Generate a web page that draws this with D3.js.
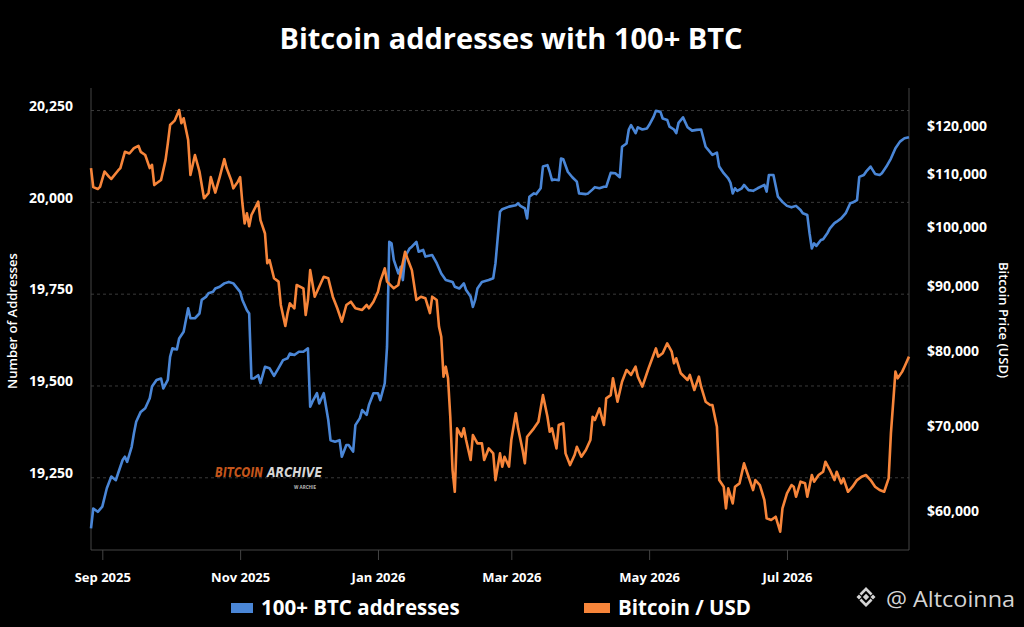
<!DOCTYPE html>
<html>
<head>
<meta charset="utf-8">
<title>Bitcoin addresses with 100+ BTC</title>
<script src="https://d3js.org/d3.v7.min.js"></script>
<style>
  html, body { margin: 0; padding: 0; background: #000; }
  svg { display: block; font-family: "Open Sans", "Noto Sans", sans-serif; }
</style>
</head>
<body>
<script>
// ---- data ----
const addrDates = [
  "2025-08-27","2025-08-28","2025-08-30","2025-09-01","2025-09-03","2025-09-05","2025-09-07","2025-09-08","2025-09-10","2025-09-11","2025-09-12","2025-09-14","2025-09-15","2025-09-16","2025-09-18","2025-09-20","2025-09-22","2025-09-23","2025-09-25","2025-09-27","2025-09-28","2025-09-30",
  "2025-10-01","2025-10-02","2025-10-04","2025-10-05","2025-10-07","2025-10-09","2025-10-10","2025-10-12","2025-10-14","2025-10-15","2025-10-17","2025-10-18","2025-10-20","2025-10-21","2025-10-23","2025-10-25","2025-10-27","2025-10-29",
  "2025-11-01","2025-11-02","2025-11-04","2025-11-05","2025-11-06","2025-11-07","2025-11-09","2025-11-10","2025-11-12","2025-11-14","2025-11-16","2025-11-18","2025-11-20","2025-11-22","2025-11-23","2025-11-25","2025-11-27","2025-11-29",
  "2025-12-01","2025-12-02","2025-12-03","2025-12-05","2025-12-06","2025-12-08","2025-12-10","2025-12-11","2025-12-13","2025-12-15","2025-12-16","2025-12-18","2025-12-19","2025-12-21","2025-12-22","2025-12-24","2025-12-25","2025-12-27","2025-12-28","2025-12-30",
  "2026-01-01","2026-01-02","2026-01-04","2026-01-05","2026-01-06","2026-01-07","2026-01-08","2026-01-10","2026-01-11","2026-01-12","2026-01-13","2026-01-15","2026-01-16","2026-01-18","2026-01-19","2026-01-21","2026-01-22","2026-01-25","2026-01-27","2026-01-29","2026-01-31",
  "2026-02-03","2026-02-04","2026-02-06","2026-02-08","2026-02-09","2026-02-11","2026-02-12","2026-02-13","2026-02-14","2026-02-16","2026-02-19","2026-02-21","2026-02-22","2026-02-24","2026-02-25","2026-02-28",
  "2026-03-03","2026-03-04","2026-03-05","2026-03-07","2026-03-08","2026-03-09","2026-03-11","2026-03-12","2026-03-14","2026-03-15","2026-03-17","2026-03-18","2026-03-19","2026-03-20","2026-03-22","2026-03-23","2026-03-24","2026-03-26","2026-03-28","2026-03-30","2026-03-31",
  "2026-04-03","2026-04-04","2026-04-06","2026-04-07","2026-04-09","2026-04-11","2026-04-12","2026-04-14","2026-04-16","2026-04-18","2026-04-19","2026-04-21","2026-04-22","2026-04-23","2026-04-25","2026-04-26","2026-04-28","2026-04-30",
  "2026-05-01","2026-05-03","2026-05-04","2026-05-06","2026-05-07","2026-05-09","2026-05-10","2026-05-12","2026-05-13","2026-05-14","2026-05-16","2026-05-18","2026-05-20","2026-05-22","2026-05-24","2026-05-26","2026-05-29","2026-05-31",
  "2026-06-01","2026-06-03","2026-06-05","2026-06-06","2026-06-07","2026-06-08","2026-06-09","2026-06-11","2026-06-12","2026-06-14","2026-06-16","2026-06-18","2026-06-21","2026-06-22","2026-06-23","2026-06-25","2026-06-27","2026-06-29",
  "2026-07-01","2026-07-03","2026-07-05","2026-07-07","2026-07-08","2026-07-10","2026-07-11","2026-07-12","2026-07-13","2026-07-14","2026-07-16","2026-07-17","2026-07-19","2026-07-20","2026-07-22","2026-07-23","2026-07-25","2026-07-27","2026-07-29","2026-07-30",
  "2026-08-01","2026-08-02","2026-08-04","2026-08-05","2026-08-07","2026-08-09","2026-08-11","2026-08-12","2026-08-14","2026-08-16","2026-08-18","2026-08-20","2026-08-22","2026-08-24"
];
const addrValues = [
  19111,19165,19156,19170,19220,19252,19242,19261,19297,19306,19292,19333,19370,19401,19428,19438,19465,19497,19515,19519,19492,19515,
  19578,19601,19598,19628,19646,19710,19683,19683,19696,19733,19742,19751,19755,19764,19769,19778,19782,19778,
  19755,19733,19705,19696,19519,19519,19528,19506,19551,19547,19526,19547,19569,19574,19587,19583,19592,19592,
  19601,19442,19456,19479,19451,19479,19406,19351,19347,19351,19306,19338,19338,19320,19392,19411,19433,19420,19447,19479,
  19479,19460,19506,19605,19891,19887,19842,19805,19823,19787,19851,19873,19878,19891,19864,19869,19851,19855,19833,19805,19787,
  19782,19769,19764,19778,19760,19742,19714,19733,19764,19782,19787,19792,19833,19973,19980,19987,
  19991,19996,19989,19982,19955,20014,20023,20021,20037,20096,20100,20082,20059,20061,20059,20118,20116,20082,20067,20055,20023,
  20021,20023,20034,20040,20037,20041,20041,20079,20078,20067,20150,20159,20197,20209,20187,20203,20197,20200,
  20209,20232,20248,20245,20227,20223,20205,20197,20187,20215,20230,20203,20194,20196,20197,20150,20128,20134,
  20096,20078,20064,20052,20023,20037,20030,20037,20046,20032,20030,20037,20046,20028,20073,20073,20014,20000,
  19989,19985,19989,19978,19969,19964,19914,19873,19887,19880,19896,19898,19916,19928,19942,19946,19955,19969,19996,19998,
  20005,20068,20073,20082,20096,20076,20073,20078,20096,20118,20146,20164,20173,20176
];

const priceDates = [
  "2025-08-27","2025-08-28","2025-08-30","2025-08-31","2025-09-02","2025-09-04","2025-09-05","2025-09-08","2025-09-09","2025-09-11","2025-09-13","2025-09-15","2025-09-17","2025-09-18","2025-09-20","2025-09-22","2025-09-23","2025-09-24","2025-09-25","2025-09-27","2025-09-29","2025-09-30",
  "2025-10-01","2025-10-03","2025-10-05","2025-10-06","2025-10-07","2025-10-09","2025-10-10","2025-10-12","2025-10-14","2025-10-16","2025-10-18","2025-10-19","2025-10-21","2025-10-23","2025-10-25","2025-10-26","2025-10-28","2025-10-29","2025-10-31",
  "2025-11-01","2025-11-02","2025-11-03","2025-11-04","2025-11-05","2025-11-06","2025-11-09","2025-11-10","2025-11-12","2025-11-13","2025-11-14","2025-11-16","2025-11-18","2025-11-19","2025-11-21","2025-11-22","2025-11-23","2025-11-25","2025-11-26","2025-11-29","2025-11-30",
  "2025-12-01","2025-12-02","2025-12-04","2025-12-05","2025-12-08","2025-12-10","2025-12-12","2025-12-14","2025-12-16","2025-12-18","2025-12-20","2025-12-22","2025-12-25","2025-12-27","2025-12-28","2025-12-30",
  "2026-01-01","2026-01-02","2026-01-04","2026-01-05","2026-01-08","2026-01-10","2026-01-11","2026-01-13","2026-01-14","2026-01-16","2026-01-18","2026-01-20","2026-01-22","2026-01-24","2026-01-25","2026-01-27","2026-01-28","2026-01-29","2026-01-30","2026-01-31",
  "2026-02-01","2026-02-02","2026-02-03","2026-02-04","2026-02-05","2026-02-07","2026-02-08","2026-02-09","2026-02-11","2026-02-12","2026-02-14","2026-02-16","2026-02-17","2026-02-19","2026-02-21","2026-02-22","2026-02-24","2026-02-25","2026-02-26","2026-02-28",
  "2026-03-01","2026-03-03","2026-03-04","2026-03-06","2026-03-07","2026-03-08","2026-03-11","2026-03-13","2026-03-15","2026-03-17","2026-03-18","2026-03-19","2026-03-21","2026-03-22","2026-03-24","2026-03-25","2026-03-27","2026-03-29","2026-03-30",
  "2026-04-01","2026-04-03","2026-04-05","2026-04-06","2026-04-07","2026-04-09","2026-04-11","2026-04-12","2026-04-14","2026-04-15","2026-04-17","2026-04-19","2026-04-21","2026-04-23","2026-04-25","2026-04-26","2026-04-28","2026-04-30",
  "2026-05-01","2026-05-04","2026-05-05","2026-05-07","2026-05-09","2026-05-11","2026-05-12","2026-05-13","2026-05-15","2026-05-18","2026-05-19","2026-05-21","2026-05-23","2026-05-24","2026-05-26","2026-05-28","2026-05-29","2026-05-31",
  "2026-06-01","2026-06-03","2026-06-04","2026-06-05","2026-06-07","2026-06-08","2026-06-10","2026-06-12","2026-06-14","2026-06-16","2026-06-17","2026-06-19","2026-06-21","2026-06-22","2026-06-24","2026-06-26","2026-06-28","2026-06-29",
  "2026-07-01","2026-07-03","2026-07-04","2026-07-05","2026-07-07","2026-07-09","2026-07-10","2026-07-12","2026-07-13","2026-07-15","2026-07-17","2026-07-18","2026-07-20","2026-07-22","2026-07-23","2026-07-25","2026-07-26","2026-07-28","2026-07-30",
  "2026-08-01","2026-08-03","2026-08-05","2026-08-07","2026-08-09","2026-08-11","2026-08-13","2026-08-15","2026-08-16","2026-08-18","2026-08-19","2026-08-21","2026-08-22","2026-08-24"
];
const priceValues = [
  111250,107500,107150,107550,110570,109500,109100,110770,111250,114550,114200,115300,115800,114550,113900,111250,111900,107900,108250,108900,112900,116300,
  120200,121150,123500,120580,121670,117000,109890,113900,110570,105370,106330,109450,106450,109560,113050,111250,108900,107270,108570,
  109450,104430,100700,102560,100200,102250,104720,101300,98900,93750,94300,91250,90700,86970,83750,85720,87230,86460,90150,89620,85430,
  87750,92600,88280,89080,91500,91250,88280,86460,84400,86970,87480,86460,86200,86970,86460,87480,
  89080,90700,92900,90700,89620,90150,92050,95700,94590,92600,87750,88280,88020,85720,88280,87750,83650,82150,76460,77840,
  76230,71140,64640,62160,69670,68630,69670,68220,65810,68840,67810,67810,65810,67200,66600,63480,66600,65030,66200,65030,
  68220,71580,69670,67000,65420,68630,69670,70500,73960,71140,69250,69670,67200,70090,70300,66600,65220,66400,67400,
  66200,67000,68220,71140,70720,72220,70090,73530,73960,76230,73090,75770,77380,76690,77840,76460,75090,76920,
  77840,80440,79260,79740,81180,79970,78310,79020,76920,76000,76690,74640,76460,75090,73090,72660,72660,69880,
  63480,62730,60330,62540,60870,62730,63110,65420,63860,62350,63480,62920,61240,59260,59080,59430,57850,60330,
  61980,62920,62730,61600,63300,63110,61600,64060,63300,64060,64440,65610,64640,63480,64440,63110,63670,62160,62730,
  63480,63860,64060,63480,62730,62350,62160,63670,69040,77150,76230,77150,77840,79260
];

const monthTicks = ["2025-09-01","2025-11-01","2026-01-01","2026-03-01","2026-05-01","2026-07-01"];
const addrTicks = [19250, 19500, 19750, 20000, 20250];
const priceTicks = [60000, 70000, 80000, 90000, 100000, 110000, 120000];

// ---- layout ----
const width = 1024, height = 627;
const plotLeft = 91, plotRight = 909, plotTop = 88, plotBottom = 550;
const blue = "#4a86d6", orange = "#f7853a";

const parse = d3.timeParse("%Y-%m-%d");
const addr = addrDates.map((d, i) => ({ date: parse(d), value: addrValues[i] }));
const price = priceDates.map((d, i) => ({ date: parse(d), value: priceValues[i] }));

const svg = d3.select("body").append("svg")
    .attr("width", width)
    .attr("height", height)
    .style("background", "#000");

const x = d3.scaleTime()
    .domain(d3.extent(addr.concat(price), d => d.date))
    .range([plotLeft, plotRight]);

const yLeft = d3.scaleLinear()
    .domain([19052, 20310])
    .range([plotBottom, plotTop]);

// price axis is logarithmic
const yRight = d3.scaleLog()
    .domain([55980, 128480])
    .range([plotBottom, plotTop]);

// gridlines
svg.append("g")
    .attr("transform", `translate(${plotLeft},0)`)
    .call(d3.axisLeft(yLeft).tickValues(addrTicks).tickSize(-(plotRight - plotLeft)).tickFormat(""))
    .call(g => g.select(".domain").remove())
    .selectAll("line")
    .attr("stroke", "#3a3a3a")
    .attr("stroke-dasharray", "3,3");

// frame
svg.append("line").attr("x1", plotLeft).attr("x2", plotLeft).attr("y1", plotTop).attr("y2", plotBottom).attr("stroke", "#444");
svg.append("line").attr("x1", plotRight).attr("x2", plotRight).attr("y1", plotTop).attr("y2", plotBottom).attr("stroke", "#444");
svg.append("line").attr("x1", plotLeft).attr("x2", plotRight).attr("y1", plotBottom).attr("y2", plotBottom).attr("stroke", "#444");

// left axis
svg.append("g")
    .attr("transform", `translate(${plotLeft},0)`)
    .call(d3.axisLeft(yLeft).tickValues(addrTicks).tickSize(0).tickPadding(18).tickFormat(d3.format(",")))
    .call(g => g.select(".domain").remove())
    .selectAll("text")
    .attr("dy", "0.02em")
    .attr("fill", "#fff")
    .attr("font-size", 14)
    .attr("font-weight", 700)
    .attr("font-family", "Open Sans, sans-serif");

// right axis
svg.append("g")
    .attr("transform", `translate(${plotRight},0)`)
    .call(d3.axisRight(yRight).tickValues(priceTicks).tickSize(0).tickPadding(18)
        .tickFormat(d => "$" + d3.format(",")(d)))
    .call(g => g.select(".domain").remove())
    .selectAll("text")
    .attr("fill", "#fff")
    .attr("font-size", 14)
    .attr("font-weight", 700)
    .attr("font-family", "Open Sans, sans-serif");

// bottom axis
const xAxis = svg.append("g")
    .attr("transform", `translate(0,${plotBottom})`)
    .call(d3.axisBottom(x).tickValues(monthTicks.map(parse)).tickSize(10).tickPadding(13)
        .tickFormat(d3.timeFormat("%b %Y")))
    .call(g => g.select(".domain").remove());
xAxis.selectAll("line").attr("stroke", "#444");
xAxis.selectAll("text")
    .attr("fill", "#fff")
    .attr("font-size", 13)
    .attr("font-weight", 700)
    .attr("font-family", "Open Sans, sans-serif");

// axis titles
svg.append("text")
    .attr("transform", "translate(17,321) rotate(-90)")
    .attr("text-anchor", "middle")
    .attr("fill", "#fff")
    .attr("font-size", 13)
    .attr("font-weight", 600)
    .text("Number of Addresses");

svg.append("text")
    .attr("transform", "translate(999,320) rotate(90)")
    .attr("text-anchor", "middle")
    .attr("fill", "#fff")
    .attr("font-size", 13)
    .attr("font-weight", 600)
    .text("Bitcoin Price (USD)");

// watermark in the plot: one text element, two coloured words
const wm = svg.append("text")
    .attr("y", 477)
    .attr("font-size", 14)
    .attr("font-style", "italic").attr("font-weight", 900)
    .attr("font-family", "DejaVu Sans Condensed, Liberation Sans Narrow, sans-serif");
wm.append("tspan").attr("x", 215).attr("fill", "#c4561c")
    .attr("textLength", 48).attr("lengthAdjust", "spacingAndGlyphs").text("BITCOIN");
wm.append("tspan").attr("x", 267).attr("fill", "#d6d6d6")
    .attr("textLength", 55).attr("lengthAdjust", "spacingAndGlyphs").text("ARCHIVE");
svg.append("text").attr("x", 294).attr("y", 489).attr("font-size", 6).attr("font-weight", 700)
    .attr("textLength", 22).attr("lengthAdjust", "spacingAndGlyphs")
    .attr("fill", "#bbb").text("W ARCHIE");

// lines
const lineAddr = d3.line().x(d => x(d.date)).y(d => yLeft(d.value));
const linePrice = d3.line().x(d => x(d.date)).y(d => yRight(d.value));

svg.append("path")
    .datum(addr)
    .attr("d", lineAddr)
    .attr("fill", "none")
    .attr("stroke", blue)
    .attr("stroke-width", 2.6)
    .attr("stroke-linejoin", "round");

svg.append("path")
    .datum(price)
    .attr("d", linePrice)
    .attr("fill", "none")
    .attr("stroke", orange)
    .attr("stroke-width", 2.6)
    .attr("stroke-linejoin", "round");

// title
svg.append("text")
    .attr("x", 511)
    .attr("y", 49)
    .attr("text-anchor", "middle")
    .attr("fill", "#fff")
    .attr("font-size", 29)
    .attr("font-weight", 700)
    .text("Bitcoin addresses with 100+ BTC");

// legend
const legend = [
    { label: "100+ BTC addresses", color: blue, x: 231, w: 22 },
    { label: "Bitcoin / USD", color: orange, x: 584, w: 26 }
];
const lg = svg.append("g").selectAll("g").data(legend).enter().append("g");
lg.append("rect")
    .attr("x", d => d.x).attr("y", 603)
    .attr("width", d => d.w).attr("height", 10)
    .attr("fill", d => d.color);
lg.append("text")
    .attr("x", d => d.x + d.w + 8).attr("y", 615)
    .attr("fill", "#fff")
    .attr("font-size", 20.5)
    .attr("font-weight", 700)
    .text(d => d.label);

// source mark
const logo = svg.append("g").attr("transform", "translate(866,597)").attr("fill", "#d4d4d4");
logo.append("path").attr("d", "M0,-3.2L3.2,0L0,3.2L-3.2,0Z");
logo.append("path").attr("d", "M-9.5,0L-7,-2.5L-4.5,0L-7,2.5Z");
logo.append("path").attr("d", "M9.5,0L7,-2.5L4.5,0L7,2.5Z");
logo.append("path").attr("d", "M-6.5,-3.5L0,-10L6.5,-3.5L4.6,-1.6L0,-6.2L-4.6,-1.6Z");
logo.append("path").attr("d", "M-6.5,3.5L0,10L6.5,3.5L4.6,1.6L0,6.2L-4.6,1.6Z");
svg.append("text")
    .attr("x", 886).attr("y", 607)
    .attr("fill", "#d4d4d4")
    .attr("font-size", 22)
    .attr("textLength", 129).attr("lengthAdjust", "spacingAndGlyphs")
    .text("@ Altcoinna");
</script>
</body>
</html>
